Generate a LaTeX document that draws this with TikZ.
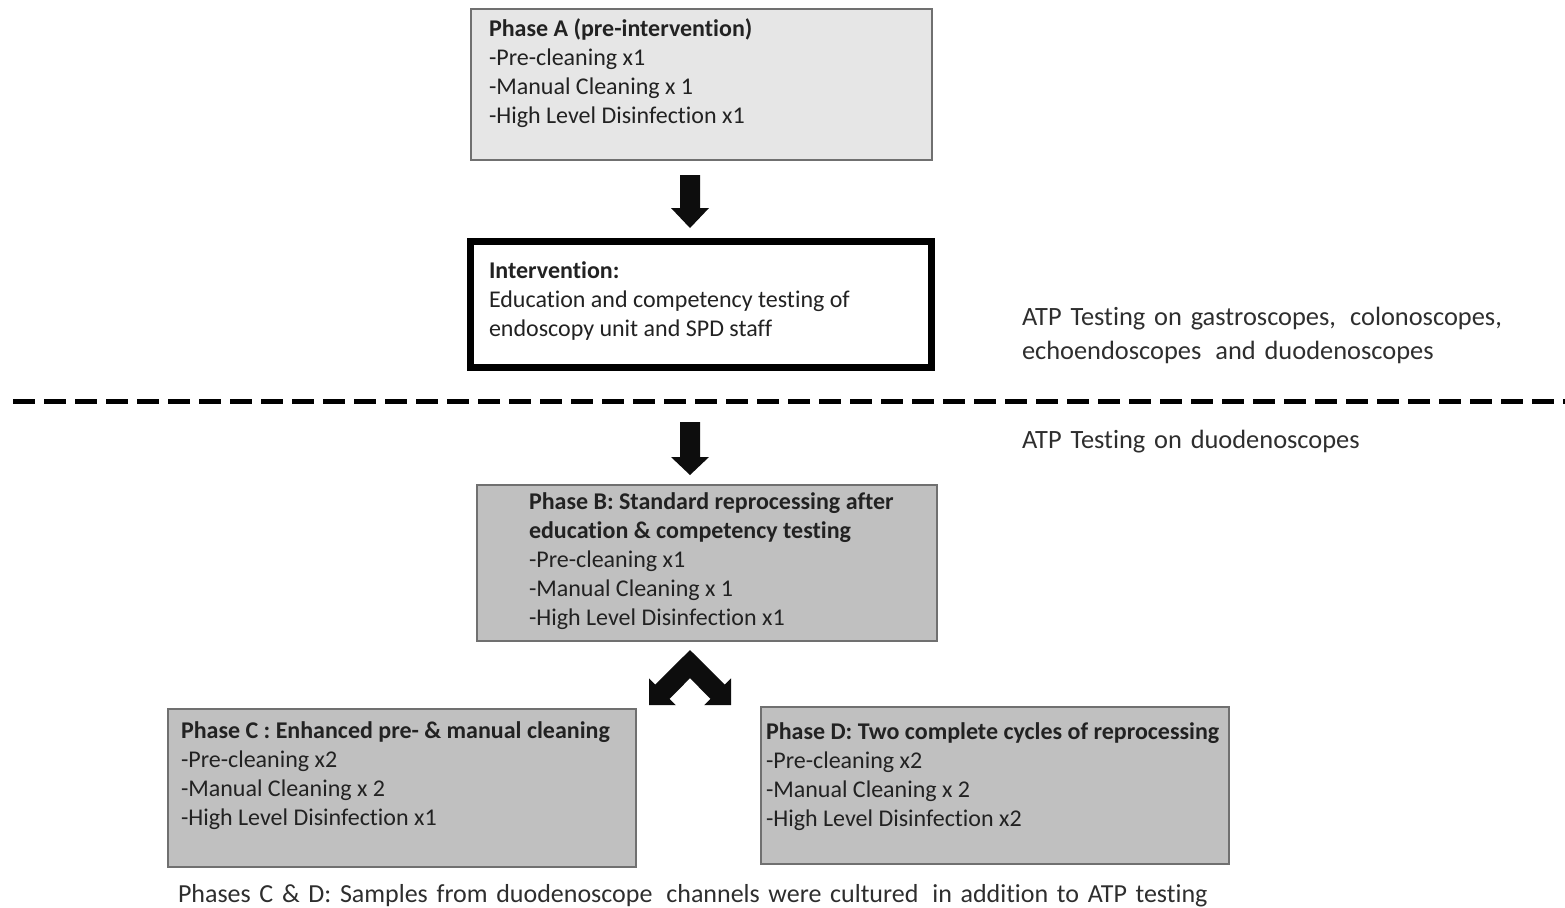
\documentclass[tikz,border=0pt]{standalone}
\usepackage{fontspec}
\setmainfont{Carlito}[Ligatures=NoCommon]
\usetikzlibrary{calc}
\definecolor{boxlight}{HTML}{E6E6E6}
\definecolor{boxmid}{HTML}{C0C0C0}
\definecolor{boxedge}{HTML}{707070}
\definecolor{txt}{HTML}{222222}
\definecolor{sidetxt}{HTML}{2E2E2E}
\definecolor{arrowblack}{HTML}{0D0D0D}
\begin{document}
\begin{tikzpicture}[x=0.5pt,y=-0.5pt,
  phasebox/.style={draw=boxedge, line width=0.8pt, inner sep=0pt, outer sep=0pt},
  boxtext/.style={anchor=base west, inner sep=0pt, outer sep=0pt, align=flush left,
    text width=#1, text=txt, font=\fontsize{12pt}{14.5pt}\selectfont},
  sidetext/.style={anchor=base west, inner sep=0pt, outer sep=0pt, align=left,
    text width=300pt, text=sidetxt, font=\fontsize{13.2pt}{17pt}\selectfont},
  blockarrow/.style={fill=arrowblack, draw=none}]
\useasboundingbox (0,0) rectangle (1565,907);

% boxes
\node[phasebox, fill=boxlight, minimum width=230.5pt, minimum height=75.5pt] (A) at (701.5,84.5) {};
\node[draw=black, line width=3.5pt, fill=white, inner sep=0pt, minimum width=230.5pt, minimum height=63pt] (I) at (701,304.5) {};
\node[phasebox, fill=boxmid, minimum width=230pt, minimum height=78pt] (B) at (707,563) {};
\node[phasebox, fill=boxmid, minimum width=234pt, minimum height=79pt] (C) at (402,788) {};
\node[phasebox, fill=boxmid, minimum width=234pt, minimum height=78.5pt] (D) at (995,785.5) {};

% box texts
\node[boxtext=215pt] (Atext) at (489,36) {\textbf{Phase A (pre-intervention)}\\-Pre-cleaning x1\\-Manual Cleaning x 1\\-High Level Disinfection x1};
\node[boxtext=215pt] (Itext) at (489,278) {\textbf{Intervention:}\\Education and competency testing of\\endoscopy unit and SPD staff};
\node[boxtext=200pt] (Btext) at (529,509) {\textbf{Phase B: Standard reprocessing after}\\\textbf{education \& competency testing}\\-Pre-cleaning x1\\-Manual Cleaning x 1\\-High Level Disinfection x1};
\node[boxtext=225pt] (Ctext) at (181,738) {\textbf{Phase C : Enhanced pre- \& manual cleaning}\\-Pre-cleaning x2\\-Manual Cleaning x 2\\-High Level Disinfection x1};
\node[boxtext=235pt] (Dtext) at (766,739) {\textbf{Phase D: Two complete cycles of reprocessing}\\-Pre-cleaning x2\\-Manual Cleaning x 2\\-High Level Disinfection x2};

% side texts
\node[sidetext] (S1) at (1022,325) {ATP Testing on gastroscopes,\hspace{0.2em} colonoscopes,\\echoendoscopes\hspace{0.2em} and duodenoscopes};
\node[sidetext] (S2) at (1022,448) {ATP Testing on duodenoscopes};
\node[sidetext, text width=560pt, font=\fontsize{13pt}{17pt}\selectfont] (S3) at (178,902) {Phases C \& D: Samples from duodenoscope\hspace{0.2em} channels were cultured\hspace{0.2em} in addition to ATP testing};

% dashed separator
\coordinate (dashL) at (13,401);
\coordinate (dashR) at (1565,401);
\draw[line width=2.5pt, dash pattern=on 11pt off 4.5pt] (dashL) -- (dashR);

% arrow A -> Intervention
\coordinate (a1) at (690,175);
\fill[blockarrow] ($(a1)+(-10,0)$) -- ++(20,0) -- ++(0,33) -- ++(9,0) -- ++(-19,20) -- ++(-19,-20) -- ++(9,0) -- cycle;

% arrow -> Phase B
\coordinate (a2) at (690,422);
\fill[blockarrow] ($(a2)+(-10,0)$) -- ++(20,0) -- ++(0,35) -- ++(9,0) -- ++(-19,18) -- ++(-19,-18) -- ++(9,0) -- cycle;

% split arrow Phase B -> Phase C, D
\coordinate (a3) at (690,650);
\fill[blockarrow] (a3) -- ++(34.7,34.6) -- ++(6.3,-6.3) -- ++(0,26.8) -- ++(-26.8,0) -- ++(6.3,-6.3)
  -- ++(-20.5,-20.6) -- ++(-20.5,20.6) -- ++(6.3,6.3) -- ++(-26.8,0) -- ++(0,-26.8) -- ++(6.3,6.3) -- cycle;
\end{tikzpicture}
\end{document}
